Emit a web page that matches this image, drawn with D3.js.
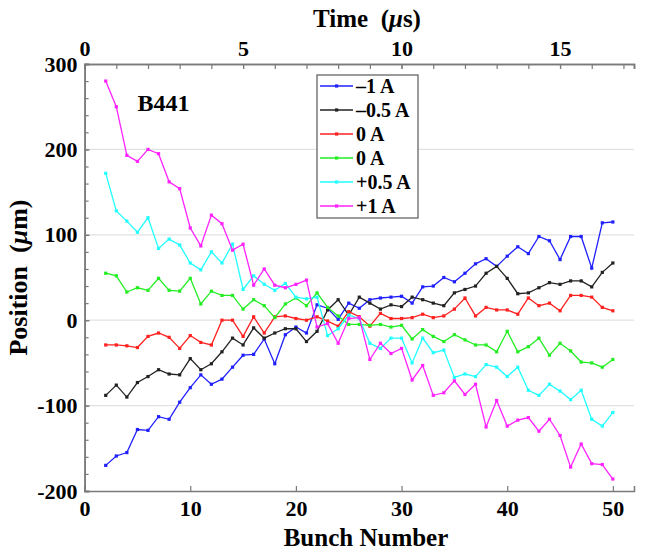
<!DOCTYPE html>
<html>
<head>
<meta charset="utf-8">
<script src="https://cdn.jsdelivr.net/npm/d3@7"></script>
<style>
  body { margin: 0; background: #fff; }
  svg text { font-family: "Liberation Serif", "Times New Roman", serif; font-weight: bold; fill: #000; }
</style>
</head>
<body>
<div id="chart"></div>
<script>
// données
const bunches = [2,3,4,5,6,7,8,9,10,11,12,13,14,15,16,17,18,19,20,21,22,23,24,25,26,
  27,28,29,30,31,32,33,34,35,36,37,38,39,40,41,42,43,44,45,46,47,48,49,50];

const minus1A = [-170,-159,-155,-128,-129,-113,-116,-96,-79,-64,-75,-69,-55,-41,-40,-22,-51,-17,-8,-15,
  18,14,1,20,14,24,26,27,28,20,39,40,50,45,55,66,72,63,75,86,78,98,93,71,98,98,61,114,115];
const minus05A = [-88,-76,-90,-73,-66,-58,-63,-64,-45,-58,-51,-37,-21,-29,-9,-21,-15,-10,-10,-25,
  -13,12,24,6,27,20,13,18,16,27,24,20,17,32,36,40,55,63,49,31,32,38,44,42,46,46,39,56,67];
const zeroA1 = [-29,-29,-30,-32,-19,-15,-20,-33,-18,-26,-29,0,0,-19,4,-15,4,5,2,0,
  4,-1,-7,10,4,-7,8,2,2,3,7,3,5,13,26,5,15,12,12,7,26,17,20,11,29,29,27,15,11];
const zeroA2 = [55,52,33,38,35,49,35,34,49,19,34,29,29,13,24,17,3,19,26,17,
  32,15,5,-5,-5,-6,-5,-8,-6,-22,-11,-19,-25,-17,-23,-29,-29,-37,-13,-37,-31,-21,-41,-27,-36,-49,-50,-55,-46];
const plus05A = [172,128,116,103,120,84,95,88,67,59,80,67,89,36,52,42,35,43,27,25,
  27,-18,-10,6,2,-27,-33,-21,-21,-50,-21,-38,-35,-67,-63,-66,-52,-55,-66,-55,-82,-88,-75,-83,-93,-82,-116,-124,-108];
const plus1A = [280,250,193,186,200,195,162,154,108,87,123,113,82,89,41,60,41,38,42,47,
  -8,-4,-27,2,3,-46,-27,-39,-33,-70,-53,-88,-85,-71,-87,-75,-125,-94,-124,-117,-114,-130,-116,-135,-172,-145,-168,-169,-186];

const legendLabels = ["\u20131 A", "\u20130.5 A", "0 A", "0 A", "+0.5 A", "+1 A"];
const colors = ["#2020ff", "#222222", "#ff2020", "#22ee22", "#22ffff", "#ff22ff"];
const allSeries = [minus1A, minus05A, zeroA1, zeroA2, plus05A, plus1A];

const yTicks = [-200, -100, 0, 100, 200, 300];
const xTicks = [0, 10, 20, 30, 40, 50];
const timeTicks = [0, 5, 10, 15];

// marges
const W = 647, H = 550;
const margin = { top: 64, right: 13, bottom: 59, left: 84.6 };
const width = W - margin.left - margin.right,
      height = H - margin.top - margin.bottom;

const svg = d3.select("#chart").append("svg")
    .attr("width", W)
    .attr("height", H);

const g = svg.append("g")
    .attr("transform", "translate(" + margin.left + "," + margin.top + ")");

const x = d3.scaleLinear().domain([0, 52]).range([0, width]);
const y = d3.scaleLinear().domain([-200, 300]).range([height, 0]);
const t = d3.scaleLinear().domain([0, 52 / 3]).range([0, width]);

// grille horizontale
g.append("g")
    .selectAll("line")
    .data(yTicks.filter(d => d > -200 && d < 300))
    .join("line")
    .attr("x1", 0).attr("x2", width)
    .attr("y1", d => y(d)).attr("y2", d => y(d))
    .attr("stroke", "#e2e2e2")
    .attr("stroke-width", 1.2);

// axe bas
g.append("g")
    .attr("transform", "translate(0," + height + ")")
    .call(d3.axisBottom(x).tickValues(xTicks).tickSize(-5).tickPadding(9).tickFormat(d => String(d)));

// axe gauche (mineures tous les 20)
g.append("g")
    .call(d3.axisLeft(y).tickValues(d3.range(-200, 301, 20)).tickSize(-4).tickFormat(""));
g.append("g")
    .call(d3.axisLeft(y).tickValues(yTicks).tickSize(-5).tickPadding(7).tickFormat(d => String(d)));

// axe haut (temps)
g.append("g")
    .call(d3.axisTop(t).tickValues(d3.range(0, 18, 1)).tickSize(-5).tickFormat(""));
g.append("g")
    .call(d3.axisTop(t).tickValues(timeTicks).tickSize(-5).tickPadding(8).tickFormat(d => String(d)));

svg.selectAll(".domain").attr("stroke", "#7a7a7a").attr("stroke-width", 1.5);
svg.selectAll(".tick line").attr("stroke", "#7a7a7a").attr("stroke-width", 1.2);
svg.selectAll(".tick text").style("font-size", "22px").attr("fill", "#000");

// séries
const line = d3.line()
    .x((d, i) => x(bunches[i]))
    .y(d => y(d));

allSeries.forEach((serie, k) => {
    g.append("path")
        .datum(serie)
        .attr("fill", "none")
        .attr("stroke", colors[k])
        .attr("stroke-width", 1.3)
        .attr("d", line);
    g.append("g")
        .selectAll("rect")
        .data(serie)
        .join("rect")
        .attr("x", (d, i) => x(bunches[i]) - 1.6)
        .attr("y", d => y(d) - 1.6)
        .attr("width", 3.2)
        .attr("height", 3.2)
        .attr("fill", colors[k]);
});

// texte B441
g.append("text")
    .attr("x", x(5))
    .attr("y", y(245))
    .style("font-size", "24px")
    .text("B441");

// légende
const leg = svg.append("g").attr("transform", "translate(317,75)");
leg.append("rect")
    .attr("width", 101).attr("height", 143)
    .attr("fill", "#fff")
    .attr("stroke", "#666")
    .attr("stroke-width", 1.3);
legendLabels.forEach((lab, k) => {
    const yy = 11 + k * 24;
    leg.append("line")
        .attr("x1", 3).attr("x2", 36)
        .attr("y1", yy).attr("y2", yy)
        .attr("stroke", colors[k]).attr("stroke-width", 1.3);
    leg.append("rect")
        .attr("x", 18).attr("y", yy - 1.6)
        .attr("width", 3.2).attr("height", 3.2)
        .attr("fill", colors[k]);
    leg.append("text")
        .attr("x", 39).attr("y", yy + 7)
        .style("font-size", "20px")
        .text(lab);
});

// titres des axes
svg.append("text")
    .attr("x", 366)
    .attr("y", 546)
    .attr("text-anchor", "middle")
    .style("font-size", "25px")
    .text("Bunch Number");

const tt = svg.append("text")
    .attr("x", 367)
    .attr("y", 27)
    .attr("text-anchor", "middle")
    .style("font-size", "25px")
    .attr("xml:space", "preserve");
tt.append("tspan").text("Time  (");
tt.append("tspan").style("font-style", "italic").text("\u03bc");
tt.append("tspan").text("s)");

const yt = svg.append("text")
    .attr("transform", "translate(27," + (margin.top + height / 2) + ") rotate(-90)")
    .attr("text-anchor", "middle")
    .style("font-size", "26px")
    .attr("xml:space", "preserve");
yt.append("tspan").text("Position  (");
yt.append("tspan").style("font-style", "italic").text("\u03bc");
yt.append("tspan").text("m)");
</script>
</body>
</html>
